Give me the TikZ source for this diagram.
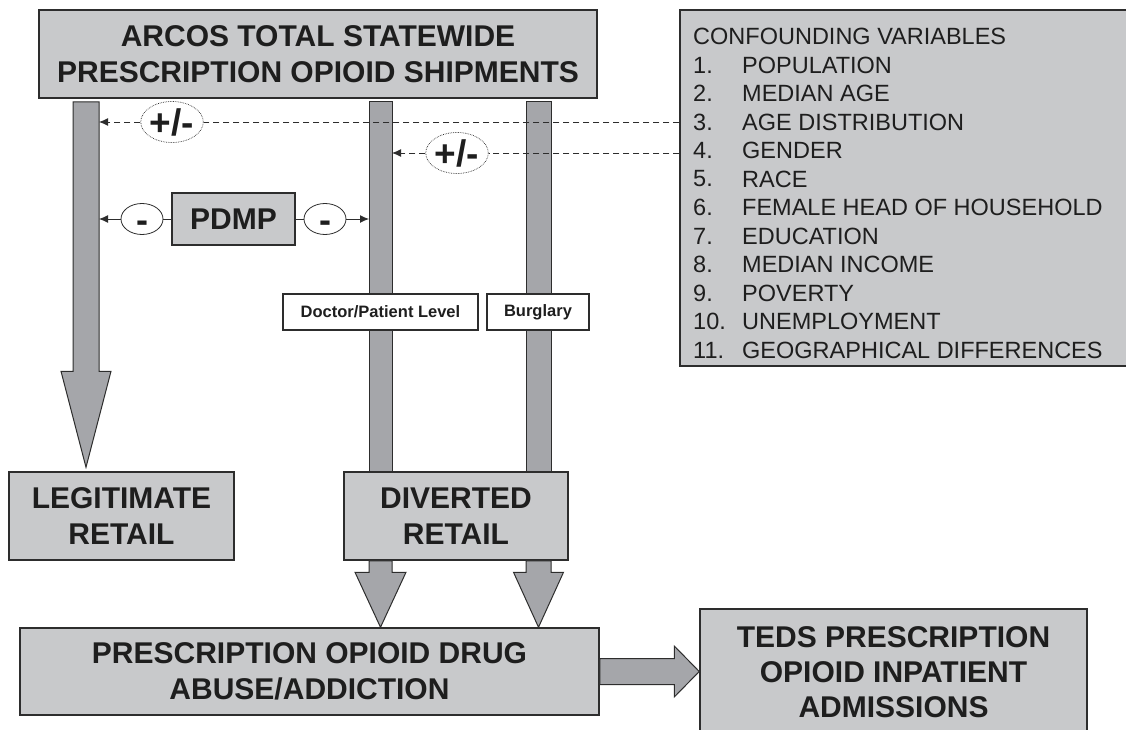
\documentclass[tikz,border=0pt]{standalone}
\usepackage{fontspec}
\setmainfont{Liberation Sans}
\usetikzlibrary{shapes.geometric,calc,arrows.meta}

\definecolor{boxgray}{RGB}{200,201,203}
\definecolor{shaftgray}{RGB}{165,166,170}
\definecolor{edgegray}{RGB}{45,45,45}
\definecolor{inkgray}{RGB}{30,30,30}

\tikzset{
  bigbox/.style={draw=edgegray,line width=1.5pt,fill=boxgray,align=center,text=inkgray,
    font=\fontsize{30}{36}\selectfont\bfseries,inner sep=0pt},
  tagbox/.style={draw=edgegray,line width=1.5pt,fill=white,text=inkgray,
    font=\fontsize{16.5}{20}\selectfont\bfseries,minimum height=36pt,inner sep=0pt},
  shaft/.style={draw=edgegray,line width=1pt,fill=shaftgray},
  effect/.style={ellipse,draw=edgegray,densely dotted,line width=0.7pt,fill=white,text=inkgray,
    minimum width=62pt,minimum height=41pt,inner sep=0pt,font=\fontsize{37}{40}\selectfont\bfseries},
  minus/.style={ellipse,draw=edgegray,line width=0.8pt,fill=white,text=inkgray,
    minimum width=42pt,minimum height=31pt,inner sep=0pt,font=\fontsize{36}{40}\selectfont\bfseries},
  dashlink/.style={draw=edgegray,dash pattern=on 6pt off 4pt,line width=0.9pt},
  plainlink/.style={draw=edgegray,line width=0.9pt},
  item/.style={anchor=west,text=inkgray,font=\fontsize{23.5}{28}\selectfont,inner sep=0pt}
}

% the sign inside a small ellipse, set a little below its middle
\newcommand{\minussign}{\smash{\raisebox{-13.5pt}{-}}}

% fat arrow pointing down from #1 to the tip #2: half shaft #3, half head #4, head length #5
\newcommand{\fatdown}[5]{%
  \path[shaft] let \p1=(#1), \p2=(#2) in
    (\x1-#3,\y1) -- (\x2-#3,\y2+#5) -- (\x2-#4,\y2+#5) -- (\x2,\y2)
    -- (\x2+#4,\y2+#5) -- (\x2+#3,\y2+#5) -- (\x1+#3,\y1) -- cycle;}
% fat arrow pointing right
\newcommand{\fatright}[5]{%
  \path[shaft] let \p1=(#1), \p2=(#2) in
    (\x1,\y1+#3) -- (\x2-#5,\y1+#3) -- (\x2-#5,\y2+#4) -- (\x2,\y2)
    -- (\x2-#5,\y2-#4) -- (\x2-#5,\y1-#3) -- (\x1,\y1-#3) -- cycle;}

\begin{document}
\begin{tikzpicture}[x=1pt,y=-1pt,>={Latex[length=9pt,width=8pt]}]
  \useasboundingbox (0,0) rectangle (1126,730);
  \clip (0,0) rectangle (1126,730);

  % the boxes
  \node[bigbox,minimum width=558pt,minimum height=88pt] (arcos) at (318,54)
    {ARCOS TOTAL STATEWIDE\\PRESCRIPTION OPIOID SHIPMENTS};
  \node[bigbox,minimum width=225pt,minimum height=88pt] (legit) at (121.5,516) {LEGITIMATE\\RETAIL};
  \node[bigbox,minimum width=224pt,minimum height=88pt] (divert) at (456,516) {DIVERTED\\RETAIL};
  \node[bigbox,minimum width=579pt,minimum height=87pt] (abuse) at (309.5,671.5)
    {PRESCRIPTION OPIOID DRUG\\ABUSE/ADDICTION};
  \node[bigbox,minimum width=387pt,minimum height=126pt,font=\fontsize{30}{35}\selectfont\bfseries] (teds) at (893.5,672)
    {TEDS PRESCRIPTION\\OPIOID INPATIENT\\ADMISSIONS};

  % shaft lines
  \coordinate (lx) at (86,102);
  \coordinate (mx) at (380.5,102);
  \coordinate (rx) at (538.5,102);
  \coordinate (le) at (99,0);
  \coordinate (me) at (369,0);
  \coordinate (mr) at (392,0);

  \fatdown{lx}{[yshift=4pt]lx |- legit.north}{13pt}{25pt}{96pt}
  \path[shaft] ([xshift=-11.5pt]mx) rectangle ([xshift=11.5pt]mx |- divert.north);
  \path[shaft] ([xshift=-12.5pt]rx) rectangle ([xshift=12.5pt]rx |- divert.north);
  \fatdown{mx |- divert.south}{mx |- abuse.north}{11.5pt}{25.5pt}{55pt}
  \fatdown{rx |- divert.south}{rx |- abuse.north}{12.5pt}{25pt}{55pt}
  \fatright{abuse.east}{abuse.east -| teds.west}{13pt}{25.5pt}{25pt}

  \node[tagbox,minimum width=195pt] (doctor) at (380.5,312) {Doctor/Patient Level};
  \node[tagbox,minimum width=102pt] (burglary) at (538,312) {Burglary};

  % confounding variables
  \node[draw=edgegray,line width=1.5pt,fill=boxgray,minimum width=460pt,minimum height=356pt,inner sep=0pt]
    (conf) at (910,188) {};
  \node[item] (head) at (693,36.5) {CONFOUNDING VARIABLES};
  \foreach \num/\var in {
      1/POPULATION, 2/MEDIAN AGE, 3/AGE DISTRIBUTION, 4/GENDER, 5/RACE,
      6/FEMALE HEAD OF HOUSEHOLD, 7/EDUCATION, 8/MEDIAN INCOME, 9/POVERTY,
      10/UNEMPLOYMENT, 11/GEOGRAPHICAL DIFFERENCES}
    {
      \node[item] (n\num) at (693,{36.5+28.5*\num}) {\num.};
      \node[item] (v\num) at (742,{36.5+28.5*\num}) {\var};
    }

  % effects of the confounders
  \node[effect] (pm1) at (172,122) {+/-};
  \node[effect] (pm2) at (457,153) {+/-};
  \draw[dashlink] (conf.west |- pm1) -- (pm1.east);
  \draw[dashlink,->] (pm1.west) -- (pm1 -| le);
  \draw[dashlink] (conf.west |- pm2) -- (pm2.east);
  \draw[dashlink,->] (pm2.west) -- (pm2 -| mr);

  % PDMP
  \node[bigbox,minimum width=123pt,minimum height=52pt] (pdmp) at (233.5,219) {PDMP};
  \node[minus] (m1) at (142,219) {\minussign};
  \node[minus] (m2) at (325,219) {\minussign};
  \draw[plainlink] (pdmp.west) -- (m1.east);
  \draw[plainlink,->] (m1.west) -- (m1 -| le);
  \draw[plainlink] (pdmp.east) -- (m2.west);
  \draw[plainlink,->] (m2.east) -- (m2 -| me);
\end{tikzpicture}
\end{document}
